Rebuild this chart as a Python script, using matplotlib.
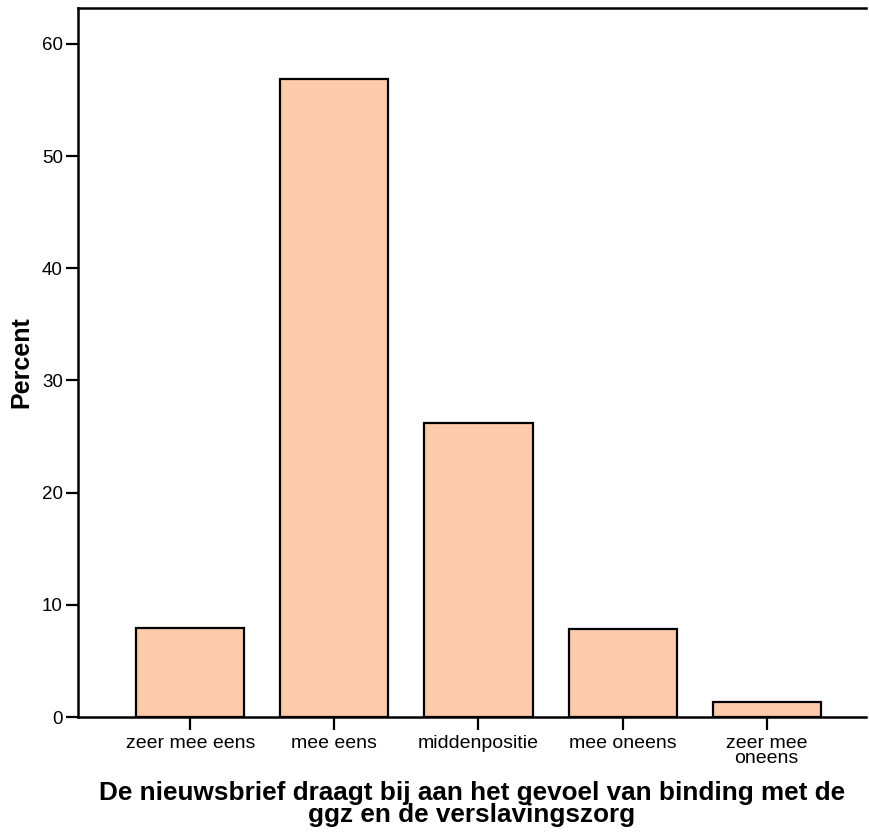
import matplotlib.pyplot as plt

categories = ['zeer mee eens', 'mee eens', 'middenpositie', 'mee oneens', 'zeer mee\noneens']
percent = [7.9, 56.9, 26.2, 7.8, 1.3]
yticks = [0, 10, 20, 30, 40, 50, 60]

plt.rcParams['font.family'] = ['Liberation Sans', 'DejaVu Sans']

fig = plt.figure(figsize=(8.69, 8.32), dpi=100)
ax = fig.add_axes([78/869, 1-717/832, (866-78)/869, (717-8)/832])

x = range(len(categories))
ax.bar(x, percent, width=0.75, color='#FECBAD', edgecolor='black', linewidth=1.6, zorder=2)

ax.set_xlim(-0.78, 4.69)
ax.set_ylim(0, 63.2)
ax.set_yticks(yticks)
ax.set_xticks(list(x))
ax.set_xticklabels(categories, fontsize=14, linespacing=0.88)
ax.tick_params(axis='y', labelsize=13.5, length=9, width=1.6, direction='out', pad=2)
ax.tick_params(axis='x', length=9, width=1.6, direction='out', pad=4)

for s in ['left', 'bottom', 'top']:
    ax.spines[s].set_linewidth(1.8)
ax.spines['right'].set_visible(False)

ax.set_ylabel('Percent', fontsize=18, fontweight='bold', labelpad=6)
ax.set_xlabel('De nieuwsbrief draagt bij aan het gevoel van binding met de\nggz en de verslavingszorg',
              fontsize=18.8, fontweight='bold', labelpad=10, linespacing=0.88)

fig.savefig('out.png', dpi=100)
plt.close()
